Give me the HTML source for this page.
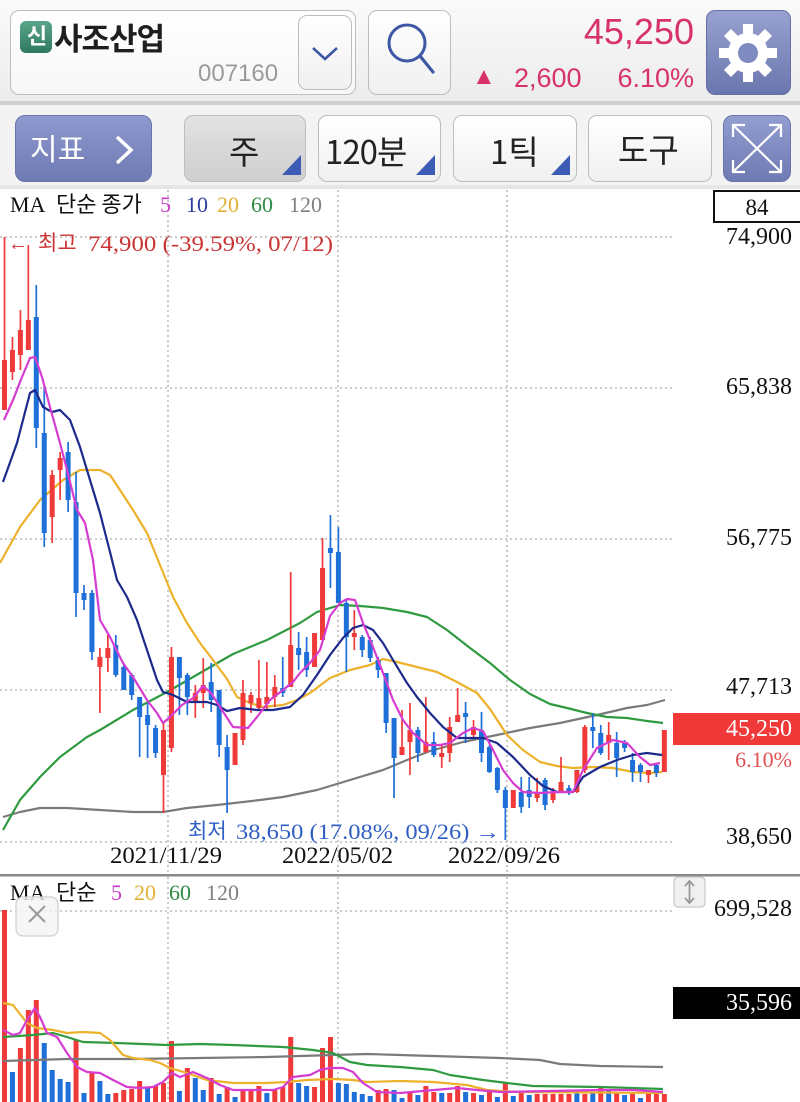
<!DOCTYPE html>
<html><head><meta charset="utf-8">
<style>
*{margin:0;padding:0;box-sizing:border-box}
html,body{width:800px;height:1102px;overflow:hidden;background:#fff}
body{position:relative;font-family:"Liberation Sans","Noto Sans CJK KR",sans-serif}
.hdr{position:absolute;left:0;top:0;width:800px;height:101px;background:linear-gradient(#fafafa,#ececec)}
.sep{position:absolute;left:0;top:101px;width:800px;height:4px;background:#cfcfcf}
.tb{position:absolute;left:0;top:105px;width:800px;height:82px;background:#f3f3f3}
.btn{position:absolute;border:1.5px solid #bdbdbd;border-radius:9px;background:linear-gradient(#ffffff,#f0f0f0)}
.tri{position:absolute;width:0;height:0;border-left:19px solid transparent;border-bottom:20px solid #3c5bb4}
.kt{position:absolute;font-family:"Noto Sans CJK KR","Liberation Sans",sans-serif;color:#222;white-space:nowrap}
</style></head><body>
<div class="hdr"></div>
<div class="sep"></div>
<div class="tb"></div>

<div class="btn" style="left:10px;top:10px;width:346px;height:85px;background:linear-gradient(#fff,#f7f7f7)"></div>
<div style="position:absolute;left:20px;top:21px;width:32px;height:32px;border-radius:6px;background:linear-gradient(#5aa58a,#2f7a5f)"></div>
<div class="kt" style="left:21px;top:16px;width:32px;text-align:center;font-size:22px;color:#fff;font-weight:bold;line-height:38px">신</div>
<div class="kt" style="left:54px;top:12px;font-size:31px;font-weight:bold;color:#1e1e1e;line-height:50px;letter-spacing:-1px">사조산업</div>
<div style="position:absolute;left:198px;top:61px;font-size:24px;color:#9a9a9a;line-height:26px">007160</div>
<div class="btn" style="left:298px;top:15px;width:54px;height:75px"></div>
<svg style="position:absolute;left:0;top:0" width="800" height="190">
<polyline points="313,48 325,59 337,48" fill="none" stroke="#3d56a6" stroke-width="2.6"/>
</svg>
<div class="btn" style="left:368px;top:10px;width:83px;height:85px"></div>
<div style="position:absolute;left:706px;top:10px;width:85px;height:85px;border-radius:9px;background:linear-gradient(#98a2d0,#6a76ae);border:1px solid #6670a6"></div>
<div style="position:absolute;right:106px;top:12px;font-size:36px;color:#d8326a;line-height:40px">45,250</div>
<div style="position:absolute;left:472px;top:63px;font-size:24px;color:#d8326a;line-height:28px">▲</div>
<div style="position:absolute;left:514px;top:62px;font-size:27px;color:#d8326a;line-height:32px">2,600</div>
<div style="position:absolute;right:106px;top:62px;font-size:27px;color:#d8326a;line-height:32px">6.10%</div>

<div style="position:absolute;left:15px;top:115px;width:137px;height:67px;border-radius:10px;background:linear-gradient(#8e99cf,#6f7ab3);border:1px solid #6a74aa"></div>
<div class="kt" style="left:30px;top:123px;font-size:30px;color:#fff;line-height:48px">지표</div>
<div class="btn" style="left:184px;top:115px;width:122px;height:67px;background:linear-gradient(#e2e2e2,#cfcfcf)"></div>
<div class="kt" style="left:229px;top:126px;font-size:33px;line-height:48px">주</div>
<div class="tri" style="left:282px;top:155px"></div>
<div class="btn" style="left:318px;top:115px;width:123px;height:67px"></div>
<div class="kt" style="left:325px;top:126px;font-size:33px;line-height:48px;letter-spacing:-1px">120분</div>
<div class="tri" style="left:416px;top:155px"></div>
<div class="btn" style="left:453px;top:115px;width:124px;height:67px"></div>
<div class="kt" style="left:490px;top:126px;font-size:33px;line-height:48px">1틱</div>
<div class="tri" style="left:551px;top:155px"></div>
<div class="btn" style="left:588px;top:115px;width:124px;height:67px"></div>
<div class="kt" style="left:618px;top:124px;font-size:33px;line-height:48px">도구</div>
<div style="position:absolute;left:723px;top:115px;width:68px;height:67px;border-radius:10px;background:linear-gradient(#929dd0,#6f7ab3);border:1px solid #6a74aa"></div>

<svg style="position:absolute;left:0;top:0" width="800" height="1102" xmlns="http://www.w3.org/2000/svg">
<circle cx="407" cy="43" r="18" fill="none" stroke="#3d56a6" stroke-width="3"/>
<line x1="420" y1="56" x2="433" y2="72" stroke="#3d56a6" stroke-width="3.2" stroke-linecap="round"/>
<g transform="translate(748,53)" fill="#fff">
<g id="t"><rect x="-5" y="-29" width="10" height="12"/></g>
<use href="#t" transform="rotate(45)"/><use href="#t" transform="rotate(90)"/><use href="#t" transform="rotate(135)"/>
<use href="#t" transform="rotate(180)"/><use href="#t" transform="rotate(225)"/><use href="#t" transform="rotate(270)"/><use href="#t" transform="rotate(315)"/>
<circle r="20"/><circle r="10" fill="#7f8ac0"/>
</g>
<polyline points="117,137 131,150 117,163" fill="none" stroke="#fff" stroke-width="3.5"/>
<g stroke="#fff" stroke-width="2.2" fill="none">
<line x1="733" y1="125" x2="781" y2="172"/><line x1="781" y1="125" x2="733" y2="172"/>
<polyline points="733,137 733,125 745,125"/><polyline points="769,125 781,125 781,137"/>
<polyline points="733,160 733,172 745,172"/><polyline points="769,172 781,172 781,160"/>
</g>

<rect x="0" y="187" width="800" height="915" fill="#fff"/>
<rect x="0" y="185" width="800" height="4" fill="#e6e6e6"/>

<g stroke="#bcbcbc" stroke-width="1.6" stroke-dasharray="2 3">
<line x1="0" y1="237" x2="672" y2="237"/>
<line x1="0" y1="388" x2="672" y2="388"/>
<line x1="0" y1="539" x2="672" y2="539"/>
<line x1="0" y1="690" x2="672" y2="690"/>
<line x1="0" y1="842" x2="672" y2="842"/>
<line x1="0" y1="911" x2="672" y2="911"/>
<line x1="168" y1="190" x2="168" y2="874"/>
<line x1="338" y1="190" x2="338" y2="874"/>
<line x1="507" y1="190" x2="507" y2="874"/>
<line x1="168" y1="877" x2="168" y2="1102"/>
<line x1="338" y1="877" x2="338" y2="1102"/>
<line x1="507" y1="877" x2="507" y2="1102"/>
</g>

<g fill="none" stroke-width="2.2" stroke-linejoin="round">
<polyline stroke="#7a7a7a" points="3,817 20,812 40,808 67,808 100,810 133,812 163,812 187,808 217,805 260,800 283,797 317,790 350,780 383,770 407,760 430,751 463,742 497,735 530,728 560,723 597,715 627,708 647,705 665,700"/>
<polyline stroke="#2f9a40" points="3,830 20,800 40,777 60,757 87,737 100,730 133,710 167,692 200,673 233,654 267,640 300,623 317,612 340,605 360,606 383,608 407,612 427,617 447,630 470,648 490,663 510,680 530,694 550,704 567,708 587,713 607,717 627,718 647,721 663,723"/>
<polyline stroke="#edb22c" points="0,563 20,527 40,500 63,480 80,470 100,470 110,475 120,490 133,510 147,533 160,565 173,597 187,623 200,643 213,660 227,679 237,697 250,703 263,707 283,705 297,700 310,693 330,678 350,670 370,665 383,659 397,662 417,667 437,672 457,682 477,693 490,709 507,735 523,750 540,762 557,766 573,768 593,767 613,768 633,772 650,773 662,772"/>
</g>

<g stroke="#f03a3a" stroke-width="1.7" fill="none">
<path d="M4.5 237V410M12.45 337V380M20.4 310V370M28.35 245V350M52.2 470V543M60.15 452V500M99.9 648V713M107.85 635V672M163.5 723V813M171.45 647V752M195.3 685V718M203.25 658V708M235.05 733V765M243 680V745M250.95 692V713M258.9 660V710M266.85 662V710M274.8 675V707M290.7 572V687M314.55 633V667M322.5 538V640M354.3 610V650M402 710V755M409.95 703V775M425.85 697V753M441.75 745V768M449.7 717V762M457.65 688V722M473.55 720V737M513.3 790V808M537.15 778V802M553.05 788V803M561 757V792M576.9 770V793M584.85 725V773M608.7 722V760M648.45 770V783M664.35 730V772"/>
</g>
<g fill="#f03a3a">
<rect x="2" y="360" width="5" height="50"/><rect x="9.95" y="350" width="5" height="22"/><rect x="17.9" y="330" width="5" height="25"/><rect x="25.85" y="320" width="5" height="30"/>
<rect x="49.7" y="475" width="5" height="42"/><rect x="57.65" y="458" width="5" height="12"/><rect x="97.4" y="657" width="5" height="10"/><rect x="105.35" y="648" width="5" height="10"/>
<rect x="161" y="730" width="5" height="45"/><rect x="168.95" y="657" width="5" height="91"/><rect x="192.8" y="693" width="5" height="10"/><rect x="200.75" y="685" width="5" height="8"/>
<rect x="232.55" y="733" width="5" height="32"/><rect x="240.5" y="693" width="5" height="47"/><rect x="248.45" y="695" width="5" height="8"/><rect x="256.4" y="698" width="5" height="10"/>
<rect x="264.35" y="697" width="5" height="7"/><rect x="272.3" y="687" width="5" height="10"/><rect x="288.2" y="645" width="5" height="42"/><rect x="312.05" y="633" width="5" height="34"/>
<rect x="320" y="568" width="5" height="72"/><rect x="351.8" y="633" width="5" height="4"/><rect x="399.5" y="747" width="5" height="8"/><rect x="407.45" y="730" width="5" height="12"/>
<rect x="423.35" y="742" width="5" height="10"/><rect x="439.25" y="753" width="5" height="4"/><rect x="447.2" y="727" width="5" height="26"/><rect x="455.15" y="715" width="5" height="7"/>
<rect x="471.05" y="727" width="5" height="8"/><rect x="510.8" y="790" width="5" height="18"/><rect x="534.65" y="792" width="5" height="6"/><rect x="550.55" y="792" width="5" height="8"/>
<rect x="558.5" y="782" width="5" height="10"/><rect x="574.4" y="770" width="5" height="22"/><rect x="582.35" y="727" width="5" height="43"/><rect x="606.2" y="735" width="5" height="8"/>
<rect x="645.95" y="770" width="5" height="5"/><rect x="661.85" y="730" width="5" height="42"/>
</g>
<g stroke="#1f6fd8" stroke-width="1.7" fill="none">
<path d="M36.3 285V448M44.25 387V547M68.1 442V512M76.05 472V617M84 585V610M91.95 590V660M115.8 635V677M123.75 663V690M131.7 673V700M139.65 697V757M147.6 703V758M155.55 725V758M179.4 657V715M187.35 673V715M211.2 663V712M219.15 690V757M227.1 735V813M282.75 657V697M298.65 632V670M306.6 637V677M330.45 515V588M338.4 527V603M346.35 600V672M362.25 635V657M370.2 637V662M378.15 657V678M386.1 673V733M394.05 718V798M417.9 727V762M433.8 732V757M465.6 702V743M481.5 712V762M489.45 745V773M497.4 767V793M505.35 787V840M521.25 777V813M529.2 777V808M545.1 778V810M568.95 785V795M592.8 713V748M600.75 725V755M616.65 732V777M624.6 740V752M632.55 753V782M640.5 763V782M656.4 763V777"/>
</g>
<g fill="#1f6fd8">
<rect x="33.8" y="317" width="5" height="111"/><rect x="41.75" y="433" width="5" height="100"/><rect x="65.6" y="452" width="5" height="48"/><rect x="73.55" y="502" width="5" height="91"/>
<rect x="81.5" y="593" width="5" height="7"/><rect x="89.45" y="593" width="5" height="59"/><rect x="113.3" y="645" width="5" height="30"/><rect x="121.25" y="667" width="5" height="23"/>
<rect x="129.2" y="675" width="5" height="20"/><rect x="137.15" y="697" width="5" height="20"/><rect x="145.1" y="715" width="5" height="10"/><rect x="153.05" y="728" width="5" height="25"/>
<rect x="176.9" y="657" width="5" height="21"/><rect x="184.85" y="675" width="5" height="22"/><rect x="208.7" y="682" width="5" height="18"/><rect x="216.65" y="690" width="5" height="55"/>
<rect x="224.6" y="747" width="5" height="23"/><rect x="280.25" y="688" width="5" height="5"/><rect x="296.15" y="648" width="5" height="7"/><rect x="304.1" y="652" width="5" height="18"/>
<rect x="327.95" y="548" width="5" height="5"/><rect x="335.9" y="552" width="5" height="51"/><rect x="343.85" y="603" width="5" height="34"/><rect x="359.75" y="637" width="5" height="13"/>
<rect x="367.7" y="640" width="5" height="18"/><rect x="375.65" y="660" width="5" height="10"/><rect x="383.6" y="673" width="5" height="50"/><rect x="391.55" y="718" width="5" height="40"/>
<rect x="415.4" y="730" width="5" height="23"/><rect x="431.3" y="742" width="5" height="13"/><rect x="463.1" y="713" width="5" height="4"/><rect x="479" y="730" width="5" height="23"/>
<rect x="486.95" y="747" width="5" height="25"/><rect x="494.9" y="768" width="5" height="22"/><rect x="502.85" y="790" width="5" height="18"/><rect x="518.75" y="792" width="5" height="15"/>
<rect x="526.7" y="790" width="5" height="7"/><rect x="542.6" y="780" width="5" height="25"/><rect x="566.45" y="788" width="5" height="4"/><rect x="590.3" y="727" width="5" height="4"/>
<rect x="598.25" y="733" width="5" height="20"/><rect x="614.15" y="743" width="5" height="15"/><rect x="622.1" y="742" width="5" height="6"/><rect x="630.05" y="760" width="5" height="12"/>
<rect x="638" y="765" width="5" height="7"/><rect x="653.9" y="765" width="5" height="8"/>
</g>

<g fill="none" stroke-width="2.2" stroke-linejoin="round">
<polyline stroke="#1c2a8c" points="3,482 17,443 30,393 35,390 43,407 52,412 60,410 70,420 80,447 90,480 100,513 110,552 117,580 127,597 137,620 147,650 157,680 163,692 173,695 187,702 207,702 217,705 227,711 240,708 257,710 273,710 290,707 303,695 317,675 330,655 343,638 353,628 363,625 373,630 383,643 393,660 407,683 417,697 430,713 443,727 457,738 470,738 483,738 497,743 513,757 530,775 543,786 557,792 573,792 583,777 600,767 617,760 633,755 647,753 662,755"/>
<polyline stroke="#d53cd0" points="4,420 13,400 22,377 30,358 35,357 42,377 50,407 60,443 67,470 77,510 85,523 93,560 100,620 110,637 123,663 133,677 147,700 157,713 163,723 170,717 182,705 193,698 203,686 211,693 220,707 233,727 248,728 257,717 270,700 283,690 293,682 300,673 310,663 320,650 330,616 340,603 347,599 355,600 363,623 373,647 383,673 393,700 403,720 413,733 427,745 440,745 450,743 463,733 473,728 483,731 493,750 503,770 513,783 523,792 540,793 557,792 573,792 583,770 597,748 613,740 627,743 640,757 650,765 660,763"/>
</g>

<text x="10" y="212" font-family="Liberation Serif,serif" font-size="22" fill="#111">MA</text>
<text x="56" y="212" font-family="Noto Sans CJK KR,sans-serif" font-size="22" fill="#111">단순 종가</text>
<g font-family="Liberation Serif,serif" font-size="22">
<text x="160" y="212" fill="#c83ac8">5</text>
<text x="186" y="212" fill="#2d3e9e">10</text>
<text x="217" y="212" fill="#e0b030">20</text>
<text x="251" y="212" fill="#2e8b45">60</text>
<text x="289" y="212" fill="#808080">120</text>
</g>

<text x="8" y="250" font-family="Liberation Serif,serif" font-size="20" fill="#cc3333">←</text>
<text x="38" y="250" font-family="Noto Sans CJK KR,sans-serif" font-size="21" fill="#cc3333">최고</text>
<text x="88" y="251" font-family="Liberation Serif,serif" font-size="22" fill="#cc3333" textLength="245" lengthAdjust="spacingAndGlyphs">74,900 (-39.59%, 07/12)</text>
<text x="188" y="838" font-family="Noto Sans CJK KR,sans-serif" font-size="21" fill="#2f5fc4">최저</text>
<text x="236" y="839" font-family="Liberation Serif,serif" font-size="22" fill="#2f5fc4" textLength="264" lengthAdjust="spacingAndGlyphs">38,650 (17.08%, 09/26) →</text>

<g font-family="Liberation Serif,serif" font-size="23" fill="#111">
<text x="110" y="863" textLength="112" lengthAdjust="spacingAndGlyphs">2021/11/29</text>
<text x="282" y="863" textLength="111" lengthAdjust="spacingAndGlyphs">2022/05/02</text>
<text x="448" y="863" textLength="112" lengthAdjust="spacingAndGlyphs">2022/09/26</text>
</g>

<rect x="714" y="191" width="90" height="31" fill="#fff" stroke="#111" stroke-width="2"/>
<text x="757" y="215" text-anchor="middle" font-family="Liberation Serif,serif" font-size="23" fill="#111">84</text>
<g font-family="Liberation Serif,serif" font-size="24" fill="#111" text-anchor="end">
<text x="792" y="244">74,900</text>
<text x="792" y="394">65,838</text>
<text x="792" y="545">56,775</text>
<text x="792" y="694">47,713</text>
<text x="792" y="844">38,650</text>
</g>
<rect x="673" y="713" width="127" height="32" fill="#f03a3a"/>
<text x="792" y="736" text-anchor="end" font-family="Liberation Serif,serif" font-size="24" fill="#fff">45,250</text>
<text x="792" y="767" text-anchor="end" font-family="Liberation Serif,serif" font-size="22" fill="#e05050">6.10%</text>

<rect x="0" y="874" width="800" height="2.5" fill="#8a8a8a"/>

<g fill="#f03a3a">
<rect x="2" y="910" width="5" height="192"/><rect x="17.9" y="1048" width="5" height="54"/><rect x="25.85" y="1010" width="5" height="92"/><rect x="33.8" y="1000" width="5" height="102"/>
<rect x="73.55" y="1040" width="5" height="62"/><rect x="89.45" y="1072" width="5" height="30"/><rect x="113.3" y="1093" width="5" height="9"/><rect x="121.25" y="1090" width="5" height="12"/>
<rect x="129.2" y="1089" width="5" height="13"/><rect x="137.15" y="1081" width="5" height="21"/><rect x="153.05" y="1086" width="5" height="16"/><rect x="161" y="1083" width="5" height="19"/>
<rect x="168.95" y="1041" width="5" height="61"/><rect x="184.85" y="1068" width="5" height="34"/><rect x="208.7" y="1078" width="5" height="24"/><rect x="224.6" y="1087" width="5" height="15"/>
<rect x="240.5" y="1090" width="5" height="12"/><rect x="248.45" y="1090" width="5" height="12"/><rect x="256.4" y="1086" width="5" height="16"/><rect x="272.3" y="1090" width="5" height="12"/>
<rect x="280.25" y="1087" width="5" height="15"/><rect x="288.2" y="1037" width="5" height="65"/><rect x="312.05" y="1087" width="5" height="15"/><rect x="320" y="1048" width="5" height="54"/>
<rect x="327.95" y="1037" width="5" height="65"/><rect x="375.65" y="1090" width="5" height="12"/><rect x="383.6" y="1089" width="5" height="13"/>
<rect x="407.45" y="1092" width="5" height="10"/><rect x="423.35" y="1086" width="5" height="16"/><rect x="431.3" y="1092" width="5" height="10"/><rect x="447.2" y="1093" width="5" height="9"/>
<rect x="455.15" y="1086" width="5" height="16"/><rect x="471.05" y="1093" width="5" height="9"/><rect x="486.95" y="1092" width="5" height="10"/><rect x="502.85" y="1083" width="5" height="19"/>
<rect x="518.75" y="1092" width="5" height="10"/><rect x="534.65" y="1094" width="5" height="8"/><rect x="542.6" y="1094" width="5" height="8"/><rect x="550.55" y="1094" width="5" height="8"/>
<rect x="558.5" y="1094" width="5" height="8"/><rect x="566.45" y="1094" width="5" height="8"/><rect x="582.35" y="1094" width="5" height="8"/><rect x="598.25" y="1088" width="5" height="14"/>
<rect x="614.15" y="1093" width="5" height="9"/><rect x="630.05" y="1093" width="5" height="9"/><rect x="645.95" y="1094" width="5" height="8"/><rect x="653.9" y="1094" width="5" height="8"/><rect x="661.85" y="1094" width="5" height="8"/>
</g>
<g fill="#1f6fd8">
<rect x="9.95" y="1072" width="5" height="30"/><rect x="41.75" y="1043" width="5" height="59"/><rect x="49.7" y="1070" width="5" height="32"/><rect x="57.65" y="1079" width="5" height="23"/>
<rect x="65.6" y="1082" width="5" height="20"/><rect x="81.5" y="1093" width="5" height="9"/><rect x="97.4" y="1081" width="5" height="21"/><rect x="105.35" y="1094" width="5" height="8"/>
<rect x="145.1" y="1088" width="5" height="14"/><rect x="176.9" y="1091" width="5" height="11"/><rect x="192.8" y="1078" width="5" height="24"/><rect x="200.75" y="1090" width="5" height="12"/>
<rect x="216.65" y="1094" width="5" height="8"/><rect x="232.55" y="1097" width="5" height="5"/><rect x="264.35" y="1093" width="5" height="9"/><rect x="296.15" y="1083" width="5" height="19"/>
<rect x="304.1" y="1086" width="5" height="16"/><rect x="335.9" y="1083" width="5" height="19"/><rect x="343.85" y="1084" width="5" height="18"/><rect x="351.8" y="1092" width="5" height="10"/>
<rect x="359.75" y="1094" width="5" height="8"/><rect x="367.7" y="1096" width="5" height="6"/><rect x="391.55" y="1090" width="5" height="12"/><rect x="399.5" y="1098" width="5" height="4"/>
<rect x="415.4" y="1095" width="5" height="7"/><rect x="439.25" y="1093" width="5" height="9"/><rect x="463.1" y="1092" width="5" height="10"/><rect x="479" y="1095" width="5" height="7"/>
<rect x="494.9" y="1097" width="5" height="5"/><rect x="510.8" y="1096" width="5" height="6"/><rect x="526.7" y="1095" width="5" height="7"/><rect x="574.4" y="1093" width="5" height="9"/>
<rect x="590.3" y="1093" width="5" height="9"/><rect x="606.2" y="1090" width="5" height="12"/><rect x="622.1" y="1095" width="5" height="7"/><rect x="638" y="1098" width="5" height="4"/>
</g>

<g fill="none" stroke-width="2.2" stroke-linejoin="round">
<polyline stroke="#7a7a7a" points="3,1061 67,1059 133,1059 200,1058 267,1057 333,1055 367,1054 400,1055 500,1058 540,1060 560,1064 600,1066 663,1067"/>
<polyline stroke="#2f9a40" points="3,1037 33,1035 53,1033 67,1037 83,1042 117,1043 167,1045 200,1044 233,1045 283,1047 313,1050 333,1053 350,1062 367,1065 400,1067 433,1070 450,1075 483,1080 507,1083 533,1086 600,1087 663,1089"/>
<polyline stroke="#edb22c" points="3,1003 13,1005 27,1023 37,1028 53,1030 67,1033 83,1032 100,1033 110,1040 123,1055 133,1058 150,1060 160,1063 170,1068 187,1073 207,1080 233,1083 267,1083 287,1082 307,1080 333,1079 353,1080 367,1082 400,1081 433,1082 467,1085 487,1090 517,1092 663,1093"/>
<polyline stroke="#d53cd0" points="3,1030 13,1035 20,1033 27,1020 35,1008 40,1017 47,1033 57,1037 67,1053 77,1067 87,1072 100,1073 113,1080 127,1087 140,1088 153,1087 163,1082 172,1073 180,1077 193,1072 207,1078 220,1085 233,1090 253,1090 273,1090 283,1087 293,1077 310,1075 320,1070 330,1068 343,1068 353,1072 363,1083 377,1092 400,1093 457,1088 477,1090 500,1092 600,1090 633,1090 663,1092"/>
</g>

<text x="10" y="900" font-family="Liberation Serif,serif" font-size="22" fill="#111">MA</text>
<text x="56" y="900" font-family="Noto Sans CJK KR,sans-serif" font-size="22" fill="#111">단순</text>
<g font-family="Liberation Serif,serif" font-size="22">
<text x="111" y="900" fill="#c83ac8">5</text>
<text x="134" y="900" fill="#e0b030">20</text>
<text x="169" y="900" fill="#2e8b45">60</text>
<text x="206" y="900" fill="#808080">120</text>
</g>
<rect x="16" y="897" width="42" height="39" rx="7" fill="#f4f4f4" fill-opacity="0.8" stroke="#cfcfcf" stroke-width="1.2"/>
<g stroke="#9a9a9a" stroke-width="2"><line x1="29" y1="906" x2="45" y2="922"/><line x1="45" y1="906" x2="29" y2="922"/></g>
<rect x="674" y="877" width="31" height="30" rx="4" fill="#f0f0f0" stroke="#c8c8c8" stroke-width="1.2"/>
<g stroke="#9a9a9a" stroke-width="1.8" fill="none"><line x1="689.5" y1="882" x2="689.5" y2="902"/><polyline points="685,886 689.5,881 694,886"/><polyline points="685,898 689.5,903 694,898"/></g>
<text x="792" y="916" text-anchor="end" font-family="Liberation Serif,serif" font-size="24" fill="#111">699,528</text>
<rect x="673" y="987" width="127" height="32" fill="#000"/>
<text x="792" y="1010" text-anchor="end" font-family="Liberation Serif,serif" font-size="24" fill="#fff">35,596</text>
</svg>
</body></html>
